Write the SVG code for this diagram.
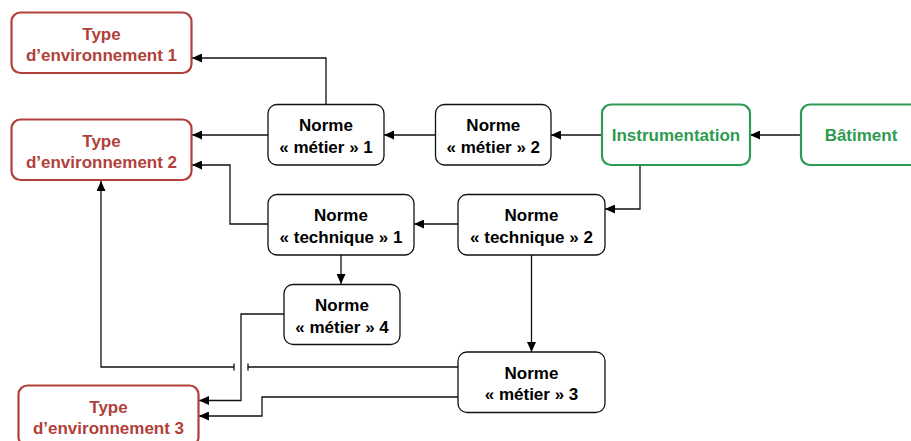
<svg xmlns="http://www.w3.org/2000/svg" width="911" height="441" viewBox="0 0 911 441">
<style>
text{font-family:"Liberation Sans",Arial,Helvetica,sans-serif;font-weight:bold;font-size:17px;text-anchor:middle}
.n rect{fill:#fff;stroke:#111;stroke-width:1.3}
.r rect{fill:#fff;stroke:#b13f3a;stroke-width:2.2}
.r text{fill:#b13f3a}
.g rect{fill:#fff;stroke:#2f9a52;stroke-width:2.2}
.g text{fill:#2f9a52}
.n text{fill:#000}
#edges path{fill:none;stroke:#111;stroke-width:1.3}
#edges path.a{marker-end:url(#ah)}
</style>
<defs>
<marker id="ah" markerUnits="userSpaceOnUse" markerWidth="11" markerHeight="9" refX="10" refY="4.5" orient="auto">
<path d="M0,0 L10,4.5 L0,9 z" fill="#000"/>
</marker>
</defs>
<rect width="911" height="441" fill="#fff"/>
<g id="edges">
<path class="a" d="M326,104 V58 H192"/>
<path class="a" d="M268,135 H192"/>
<path class="a" d="M436,135 H384"/>
<path class="a" d="M602,135 H551"/>
<path class="a" d="M801,135 H750"/>
<path class="a" d="M640,165 V209 H605"/>
<path class="a" d="M458,224 H414"/>
<path class="a" d="M268,224 H230 V165 H192"/>
<path class="a" d="M341,255 V284"/>
<path class="a" d="M531.5,255 V352"/>
<path class="a" d="M284,314 H241 V400.5 H199"/>
<path d="M458,367 H248 M248,363.5 V370.5 M234,363.5 V370.5"/>
<path class="a" d="M234,367 H101 V181"/>
<path class="a" d="M458,397 H262 V416 H199"/>
</g>
<g id="type1" class="r"><rect x="11.5" y="12.5" width="180" height="60.5" rx="9"/><text x="101.5" y="39.5">Type</text><text x="101.5" y="61">d’environnement 1</text></g>
<g id="type2" class="r"><rect x="11.5" y="119.5" width="180" height="60.5" rx="9"/><text x="101.5" y="146.5">Type</text><text x="101.5" y="168">d’environnement 2</text></g>
<g id="type3" class="r"><rect x="18.5" y="385.5" width="180" height="60.5" rx="9"/><text x="108.5" y="412.5">Type</text><text x="108.5" y="434">d’environnement 3</text></g>
<g id="metier1" class="n"><rect x="268" y="104.5" width="116" height="60.5" rx="9"/><text x="326" y="131">Norme</text><text x="326" y="152.5">« métier » 1</text></g>
<g id="metier2" class="n"><rect x="435.5" y="104.5" width="115.5" height="60.5" rx="9"/><text x="493.3" y="131">Norme</text><text x="493.3" y="152.5">« métier » 2</text></g>
<g id="instrumentation" class="g"><rect x="602" y="104.5" width="148" height="60.5" rx="9"/><text x="676" y="141">Instrumentation</text></g>
<g id="batiment" class="g"><rect x="801" y="104.5" width="120" height="60.5" rx="9"/><text x="861" y="141">Bâtiment</text></g>
<g id="technique1" class="n"><rect x="268" y="194.5" width="146" height="60.5" rx="9"/><text x="341" y="221">Norme</text><text x="341" y="242.5">« technique » 1</text></g>
<g id="technique2" class="n"><rect x="458" y="194.5" width="147" height="60.5" rx="9"/><text x="531.5" y="221">Norme</text><text x="531.5" y="242.5">« technique » 2</text></g>
<g id="metier4" class="n"><rect x="284" y="284.5" width="116" height="60" rx="9"/><text x="342" y="311">Norme</text><text x="342" y="332.5">« métier » 4</text></g>
<g id="metier3" class="n"><rect x="458" y="352" width="147" height="60.5" rx="9"/><text x="531.5" y="378.5">Norme</text><text x="531.5" y="400">« métier » 3</text></g>
</svg>
